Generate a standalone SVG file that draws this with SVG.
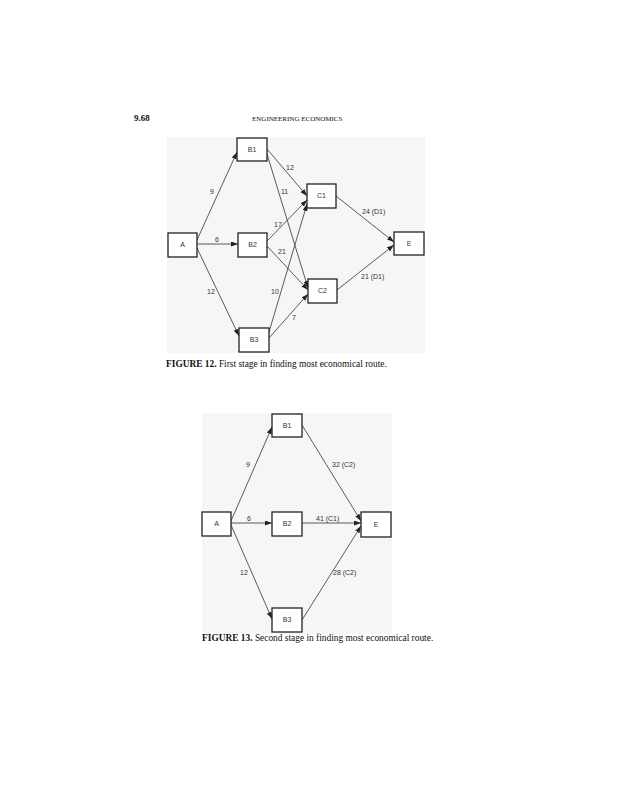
<svg xmlns="http://www.w3.org/2000/svg" width="617" height="800" viewBox="0 0 617 800">
<defs>
<marker id="ah" markerUnits="userSpaceOnUse" markerWidth="8" markerHeight="6" refX="7" refY="2.5" orient="auto">
<path d="M0,0 L7,2.5 L0,5 z" fill="#222"/>
</marker>
<style>
.panel{fill:#f6f6f6;stroke:none}
.box{fill:#fff;stroke:#222;stroke-width:1.3}
.nl{font-family:"Liberation Sans",Arial,sans-serif;font-size:7px;fill:#333;text-anchor:middle}
.el{font-family:"Liberation Sans",Arial,sans-serif;font-size:7px;fill:#333}
.edge{stroke:#333;stroke-width:0.8;fill:none;marker-end:url(#ah)}
.cap{font-family:"Liberation Serif","Times New Roman",serif;font-size:9.4px;fill:#111}
.hdr{font-family:"Liberation Serif","Times New Roman",serif;fill:#111}
</style>
</defs>
<rect width="617" height="800" fill="#fff"/>
<text class="hdr" x="134" y="121" font-size="9" font-weight="bold">9.68</text>
<text class="hdr" x="252" y="121" font-size="7">ENGINEERING ECONOMICS</text>

<!-- Figure 12 -->
<rect class="panel" x="167" y="137" width="258" height="216"/>
<g id="fig12-edges">
<line class="edge" x1="197" y1="240" x2="237" y2="152"/>
<line class="edge" x1="197" y1="244" x2="238" y2="244"/>
<line class="edge" x1="197" y1="248" x2="239" y2="336"/>
<line class="edge" x1="267" y1="149" x2="307" y2="196"/>
<line class="edge" x1="267" y1="154" x2="308" y2="288"/>
<line class="edge" x1="267" y1="241" x2="307" y2="200"/>
<line class="edge" x1="267" y1="246" x2="308" y2="290"/>
<line class="edge" x1="269" y1="332" x2="307" y2="204"/>
<line class="edge" x1="269" y1="338" x2="308" y2="294"/>
<line class="edge" x1="336" y1="196" x2="394" y2="242"/>
<line class="edge" x1="337" y1="290" x2="394" y2="245"/>
</g>
<g id="fig12-edge-labels">
<text class="el" x="210" y="194">9</text>
<text class="el" x="215" y="242">6</text>
<text class="el" x="207" y="294">12</text>
<text class="el" x="286" y="170">12</text>
<text class="el" x="281" y="194">11</text>
<text class="el" x="274" y="227">17</text>
<text class="el" x="278" y="254">21</text>
<text class="el" x="271" y="294">10</text>
<text class="el" x="292" y="320">7</text>
<text class="el" x="362" y="214">24 (D1)</text>
<text class="el" x="361" y="279">21 (D1)</text>
</g>
<g id="f12-B1"><rect class="box" x="237" y="138" width="30" height="23"/><text class="nl" x="252" y="152">B1</text></g>
<g id="f12-A"><rect class="box" x="168" y="233" width="29" height="24"/><text class="nl" x="182.5" y="247">A</text></g>
<g id="f12-B2"><rect class="box" x="238" y="233" width="29" height="24"/><text class="nl" x="252.5" y="247">B2</text></g>
<g id="f12-B3"><rect class="box" x="239" y="328" width="30" height="24"/><text class="nl" x="254" y="342">B3</text></g>
<g id="f12-C1"><rect class="box" x="307" y="184" width="29" height="24"/><text class="nl" x="321.5" y="198">C1</text></g>
<g id="f12-C2"><rect class="box" x="308" y="279" width="29" height="24"/><text class="nl" x="322.5" y="293">C2</text></g>
<g id="f12-E"><rect class="box" x="394" y="232" width="30" height="23"/><text class="nl" x="409" y="246">E</text></g>
<text class="cap" x="166" y="367"><tspan font-weight="bold">FIGURE 12.</tspan>  First stage in finding most economical route.</text>

<!-- Figure 13 -->
<rect class="panel" x="202" y="413" width="190" height="221"/>
<g id="fig13-edges">
<line class="edge" x1="231" y1="521" x2="272" y2="427"/>
<line class="edge" x1="231" y1="523" x2="272" y2="523"/>
<line class="edge" x1="231" y1="525" x2="272" y2="619"/>
<line class="edge" x1="302" y1="425" x2="361" y2="521"/>
<line class="edge" x1="302" y1="523" x2="361" y2="523"/>
<line class="edge" x1="302" y1="620" x2="361" y2="526"/>
</g>
<g id="fig13-edge-labels">
<text class="el" x="246" y="467">9</text>
<text class="el" x="247" y="521">6</text>
<text class="el" x="240" y="575">12</text>
<text class="el" x="332" y="467">32 (C2)</text>
<text class="el" x="316" y="521">41 (C1)</text>
<text class="el" x="333" y="575">28 (C2)</text>
</g>
<g id="f13-B1"><rect class="box" x="272" y="414" width="30" height="23"/><text class="nl" x="287" y="428">B1</text></g>
<g id="f13-A"><rect class="box" x="202" y="512" width="29" height="24"/><text class="nl" x="216.5" y="526">A</text></g>
<g id="f13-B2"><rect class="box" x="272" y="512" width="30" height="24"/><text class="nl" x="287" y="526">B2</text></g>
<g id="f13-B3"><rect class="box" x="272" y="608" width="30" height="24"/><text class="nl" x="287" y="622">B3</text></g>
<g id="f13-E"><rect class="box" x="361" y="512" width="30" height="25"/><text class="nl" x="376" y="527">E</text></g>
<text class="cap" x="202" y="641"><tspan font-weight="bold">FIGURE 13.</tspan>  Second stage in finding most economical route.</text>
</svg>
